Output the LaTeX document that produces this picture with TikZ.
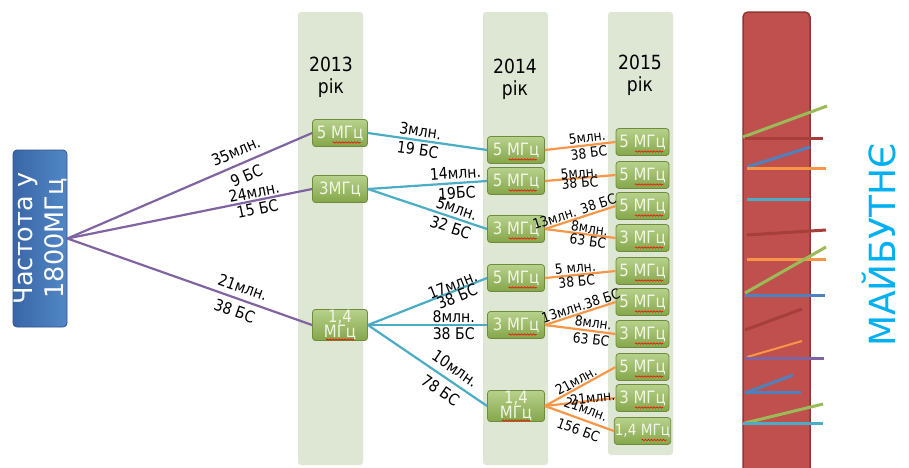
\documentclass[tikz,border=0pt]{standalone}
\usepackage{fontspec}
\setmainfont{DejaVu Sans}[FakeStretch=0.88]
\newfontfamily\widefont{DejaVu Sans}
\usetikzlibrary{decorations.pathmorphing}
\definecolor{colbg}{HTML}{DEE6D4}
\definecolor{boxgreenlt}{HTML}{B7D18C}
\definecolor{boxgreendk}{HTML}{85A64A}
\definecolor{boxedge}{HTML}{6F8C3C}
\definecolor{boxtext}{HTML}{F2F6E8}
\definecolor{freqblue}{HTML}{5187C6}
\definecolor{freqbluedk}{HTML}{3A66A6}
\definecolor{freqedge}{HTML}{2F528F}
\definecolor{barred}{HTML}{C0504D}
\definecolor{baredge}{HTML}{8C3836}
\definecolor{linkpurple}{HTML}{8064A2}
\definecolor{linkteal}{HTML}{4BACC6}
\definecolor{linkorange}{HTML}{F79646}
\definecolor{markred}{HTML}{A63F3C}
\definecolor{markgreen}{HTML}{9BBB59}
\definecolor{markblue}{HTML}{4F81BD}
\definecolor{futblue}{HTML}{00B0F0}
\tikzset{
  band/.style={fill=colbg, rounded corners=3pt},
  mhz/.style={draw=boxedge, line width=0.8pt, top color=boxgreenlt, bottom color=boxgreendk,
    rounded corners=3pt, minimum width=55pt, minimum height=27pt, inner sep=0.5pt,
    text=boxtext, font=\fontsize{17}{17}\selectfont},
  mhzsmall/.style={mhz, align=center, font=\fontsize{17}{14}\selectfont},
  freqbox/.style={rotate=90, draw=freqedge, line width=0.8pt, left color=freqbluedk, right color=freqblue,
    rounded corners=4pt, minimum width=177pt, minimum height=54pt, inner sep=0pt,
    text=white, align=center, font=\widefont\fontsize{25.5}{31}\selectfont},
  yearlbl/.style={align=center, font=\fontsize{19.5}{22}\selectfont},
  link1/.style={draw=linkpurple, line width=2.2pt},
  link2/.style={draw=linkteal, line width=2.2pt},
  link3/.style={draw=linkorange, line width=2.2pt},
  lbl/.style={sloped, align=center, inner sep=0pt, font=\fontsize{16}{18}\selectfont},
  lblsmall/.style={lbl, font=\fontsize{14}{16}\selectfont},
  spellwave/.style={draw=red, line width=0.6pt, decorate, decoration={snake, amplitude=0.7pt, segment length=3pt}},
  barline/.style={line width=3pt}
}
\begin{document}
\begin{tikzpicture}[x=1pt, y=-1pt]
\useasboundingbox (0,0) rectangle (909,467);
\fill[band] (298,12) rectangle (363,465);
\fill[band] (483,12) rectangle (548,465);
\fill[band] (608,12) rectangle (673,455);
\node[yearlbl] (y13) at (331,77) {2013\\рік};
\node[yearlbl] (y14) at (515,79) {2014\\рік};
\node[yearlbl] (y15) at (640,75) {2015\\рік};

\node[freqbox] (freq) at (40,238.5) {Частота у\\1800МГц};

\node[mhz] (a1) at (340,133) {5 МГц};
\node[mhz] (a2) at (340,189) {3МГц};
\node[mhzsmall] (a3) at (340,325) {1,4\\МГц};

\node[mhz, minimum width=57pt] (b1) at (516,150) {5 МГц};
\node[mhz, minimum width=57pt] (b2) at (516,181) {5 МГц};
\node[mhz, minimum width=57pt] (b3) at (516,229) {3 МГц};
\node[mhz, minimum width=57pt] (b4) at (516,278) {5 МГц};
\node[mhz, minimum width=57pt] (b5) at (516,325) {3 МГц};
\node[mhzsmall, minimum width=57pt] (b6) at (516,406) {1,4\\МГц};

\node[mhz, minimum width=53pt] (c1) at (642.5,142) {5 МГц};
\node[mhz, minimum width=53pt] (c2) at (642.5,175) {5 МГц};
\node[mhz, minimum width=53pt] (c3) at (642.5,206) {5 МГц};
\node[mhz, minimum width=53pt] (c4) at (642.5,238) {3 МГц};
\node[mhz, minimum width=53pt] (c5) at (642.5,271) {5 МГц};
\node[mhz, minimum width=53pt] (c6) at (642.5,302) {5 МГц};
\node[mhz, minimum width=53pt] (c7) at (642.5,334) {3 МГц};
\node[mhz, minimum width=53pt] (c8) at (642.5,367) {5 МГц};
\node[mhz, minimum width=53pt] (c9) at (642.5,398) {3 МГц};
\node[mhz, minimum width=53pt, font=\fontsize{15.5}{15.5}\selectfont] (c10) at (642.5,431) {1,4 МГц};

\foreach \n in {a1,b1,b2,b3,b4,b5,c1,c2,c3,c4,c5,c6,c7,c8,c9}
  \draw[spellwave] ([shift={(-7.5,9.5)}]\n.center) -- +(28,0);
\foreach \n in {a3,b6}
  \draw[spellwave] ([shift={(-14,14.5)}]\n.center) -- +(28,0);
\draw[spellwave] ([shift={(-1,9)}]c10.center) -- +(25,0);

\draw[link1] (freq.south) -- node[lbl, pos=0.71] {35млн.\\[9pt]9 БС} (a1.west);
\draw[link1] (freq.south) -- node[lbl, pos=0.77] {24млн.\\[-1pt]15 БС} (a2.west);
\draw[link1] (freq.south) -- node[lbl, pos=0.70] {21млн.\\[7pt]38 БС} (a3.west);

\draw[link2] (a1.east) -- node[lbl, pos=0.43] {3млн.\\[1pt]19 БС} (b1.west);
\draw[link2] (a2.east) -- node[lbl, pos=0.74] {14млн.\\[2pt]19БС} (b2.west);
\draw[link2] (a2.east) -- node[lbl, pos=0.72] {5млн.\\[2pt]32 БС} (b3.west);
\draw[link2] (a3.east) -- node[lbl, pos=0.73] {17млн.\\[-5.5pt]38 БС} (b4.west);
\draw[link2] (a3.east) -- node[lbl, pos=0.72] {8млн.\\[-1pt]38 БС} (b5.west);
\draw[link2] (a3.east) -- node[lbl, pos=0.67] {10млн.\\[8pt]78 БС} (b6.west);

\draw[link3] (b1.east) -- node[lblsmall, pos=0.61] {5млн.\\38 БС} (c1.west);
\draw[link3] (b2.east) -- node[lblsmall, pos=0.49] {5млн.\\[-6pt]38 БС} (c2.west);
\draw[link3] (b3.east) -- node[lblsmall, pos=0.45, above=1pt] {13млн. 38 БС} (c3.west);
\draw[link3] (b3.east) -- node[lblsmall, pos=0.62] {8млн.\\[-3pt]63 БС} (c4.west);
\draw[link3] (b4.east) -- node[lblsmall, pos=0.44] {5 млн.\\[-2pt]38 БС} (c5.west);
\draw[link3] (b5.east) -- node[lblsmall, pos=0.54, above=1pt] {13млн.38 БС} (c6.west);
\draw[link3] (b5.east) -- node[lblsmall, pos=0.67] {8млн.\\[1pt]63 БС} (c7.west);
\draw[link3] (b6.east) -- node[lblsmall, pos=0.49, above=1pt] {21млн.} (c8.west);
\draw[link3] (b6.east) -- node[lblsmall, pos=0.68, yshift=3pt] {21млн.} (c9.west);
\draw[link3] (b6.east) -- node[lblsmall, pos=0.54] {21млн.\\[6pt]156 БС} (c10.west);

\draw[fill=barred, draw=baredge, line width=1.5pt, rounded corners=5pt] (743,12) rectangle (810,480);
\draw[barline, markgreen] (743,137) -- (827,106);
\draw[barline, markred] (745,138) -- (823,138);
\draw[barline, markblue] (747,167) -- (810,147);
\draw[barline, linkorange] (747,168) -- (826,168);
\draw[barline, linkteal] (747,199) -- (810,199);
\draw[barline, markred] (747,235) -- (826,230);
\draw[barline, linkorange] (747,259) -- (826,259);
\draw[barline, markgreen] (745,293) -- (826,247);
\draw[barline, markblue] (745,295) -- (825,295);
\draw[barline, markred] (745,330) -- (802,309);
\draw[barline, linkorange, line width=2pt] (747,357) -- (802,341);
\draw[barline, linkpurple] (745,358) -- (824,358);
\draw[barline, markblue] (745,393) -- (793,375);
\draw[barline, markblue] (745,392) -- (801,392);
\draw[barline, markgreen] (745,423) -- (823,404);
\draw[barline, linkteal] (743,423) -- (823,423);

\node[rotate=90, text=futblue, font=\widefont\fontsize{36}{40}\selectfont] (future) at (879,245) {МАЙБУТНЄ};
\end{tikzpicture}
\end{document}
